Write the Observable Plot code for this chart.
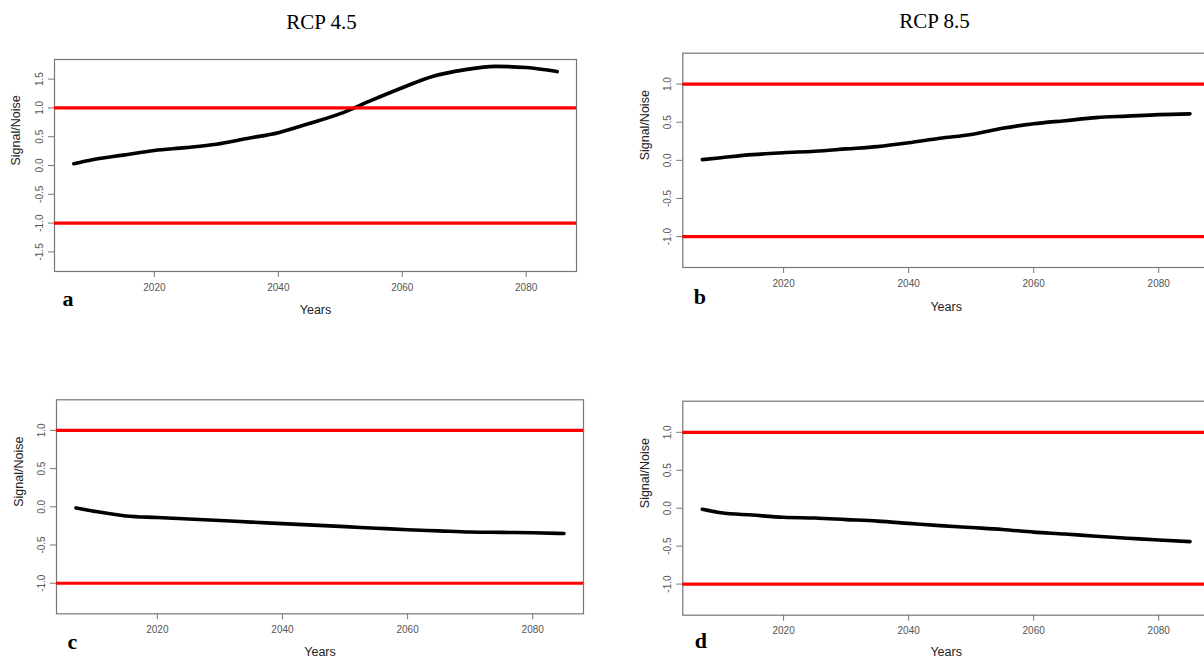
<!DOCTYPE html>
<html><head><meta charset="utf-8">
<script src="https://cdn.jsdelivr.net/npm/d3@7"></script>
<script src="https://cdn.jsdelivr.net/npm/@observablehq/plot@0.6"></script>
<style>
html,body{margin:0;padding:0;background:#fff;overflow:hidden;}
#root{position:relative;width:1204px;height:659px;overflow:hidden;background:#fff;}
.panel{position:absolute;}
</style></head><body><div id="root"></div>
<script>
// ---- data ----
const years = [2007, 2010, 2015, 2020, 2025, 2030, 2035, 2040, 2045, 2050, 2055, 2060, 2065, 2070, 2075, 2080, 2085];
const snA = [0.03, 0.10, 0.18, 0.26, 0.31, 0.37, 0.47, 0.57, 0.73, 0.90, 1.13, 1.35, 1.55, 1.66, 1.72, 1.70, 1.63];
const snB = [0.01, 0.035, 0.075, 0.10, 0.12, 0.15, 0.18, 0.23, 0.29, 0.34, 0.42, 0.48, 0.52, 0.56, 0.58, 0.60, 0.61];
const snC = [-0.015, -0.06, -0.12, -0.14, -0.16, -0.18, -0.20, -0.22, -0.24, -0.26, -0.28, -0.30, -0.315, -0.33, -0.335, -0.34, -0.35];
const snD = [-0.015, -0.06, -0.09, -0.12, -0.13, -0.15, -0.17, -0.20, -0.23, -0.255, -0.28, -0.315, -0.34, -0.37, -0.395, -0.42, -0.44];
const titles = ["RCP 4.5", "RCP 8.5"];
const letters = ["a", "b", "c", "d"];
const xTicks = [2020, 2040, 2060, 2080];
const yTicksA = [-1.5, -1.0, -0.5, 0.0, 0.5, 1.0, 1.5];
const yTicksOther = [-1.0, -0.5, 0.0, 0.5, 1.0];
const thresholds = [1, -1];
const xLabel = "Years";
const yLabel = "Signal/Noise";

// ---- layout ----
const panels = [
  {vals: snA, yDomain: [-1.84, 1.84], yTicks: yTicksA, letter: letters[0], title: titles[0],
   left: 0, top: 0, width: 602, height: 330, mt: 59, mb: 59, ml: 54, mr: 26,
   titleDx: 6, titleDy: -31, letterDx: 8, letterDy: 34, yLabDx: -39, xLabDy: 42},
  {vals: snB, yDomain: [-1.405, 1.405], yTicks: yTicksOther, letter: letters[1], title: titles[1],
   left: 602, top: 0, width: 612, height: 330, mt: 52.7, mb: 63, ml: 80.3, mr: 5,
   titleDx: -11.6, titleDy: -25, letterDx: 11, letterDy: 36, yLabDx: -38, xLabDy: 43},
  {vals: snC, yDomain: [-1.40, 1.40], yTicks: yTicksOther, letter: letters[2], title: null,
   left: 0, top: 380, width: 602, height: 279, mt: 19.3, mb: 45.7, ml: 56, mr: 19,
   letterDx: 11, letterDy: 35, yLabDx: -38, xLabDy: 42},
  {vals: snD, yDomain: [-1.41, 1.41], yTicks: yTicksOther, letter: letters[3], title: null,
   left: 602, top: 380, width: 612, height: 279, mt: 20.7, mb: 44.3, ml: 80.3, mr: 5,
   letterDx: 12, letterDy: 33, yLabDx: -38, xLabDy: 41}
];

const root = document.getElementById("root");
const sans = "'Liberation Sans', Arial, Helvetica, sans-serif";
const serif = "'Liberation Serif', 'Times New Roman', Times, serif";

for (const p of panels) {
  const rows = years.map((yr, i) => ({year: yr, value: p.vals[i]}));
  const marks = [
    Plot.axisX({ticks: xTicks, tickSize: 6, tickPadding: 6, tickFormat: d => String(d), label: null,
      fontSize: 10, stroke: "#777", fill: "#555", fontFamily: sans}),
    Plot.axisY({ticks: p.yTicks, tickSize: 6, tickPadding: 6, tickRotate: -90, tickFormat: d => d.toFixed(1), label: null,
      fontSize: 10, stroke: "#777", fill: "#555", fontFamily: sans}),
    Plot.frame({stroke: "#777", strokeWidth: 1.2}),
    Plot.line(rows, {x: "year", y: "value", stroke: "#000", strokeWidth: 3.6, curve: "monotone-x", strokeLinecap: "round", strokeLinejoin: "round"}),
    Plot.ruleY(thresholds, {stroke: "#ff0000", strokeWidth: 3.2}),
    Plot.text([yLabel], {text: d => d, frameAnchor: "left", dx: p.yLabDx, rotate: -90, fontSize: 12.5, fill: "#222", fontFamily: sans}),
    Plot.text([xLabel], {text: d => d, frameAnchor: "bottom", dy: p.xLabDy, fontSize: 12.5, fill: "#222", fontFamily: sans}),
    Plot.text([p.letter], {text: d => d, frameAnchor: "bottom-left", dx: p.letterDx, dy: p.letterDy, fontSize: 22, fontWeight: "bold", fill: "#000", fontFamily: serif})
  ];
  if (p.title) {
    marks.push(Plot.text([p.title], {text: d => d, frameAnchor: "top", dx: p.titleDx, dy: p.titleDy, lineAnchor: "bottom", fontSize: 21, fill: "#000", fontFamily: serif}));
  }
  const chart = Plot.plot({
    width: p.width, height: p.height,
    marginTop: p.mt, marginBottom: p.mb, marginLeft: p.ml, marginRight: p.mr,
    style: {background: "transparent", overflow: "visible", fontFamily: sans},
    x: {domain: [2003.88, 2088.12]},
    y: {domain: p.yDomain},
    marks
  });
  chart.classList.add("panel");
  chart.style.left = p.left + "px";
  chart.style.top = p.top + "px";
  root.appendChild(chart);
}
</script></body></html>
